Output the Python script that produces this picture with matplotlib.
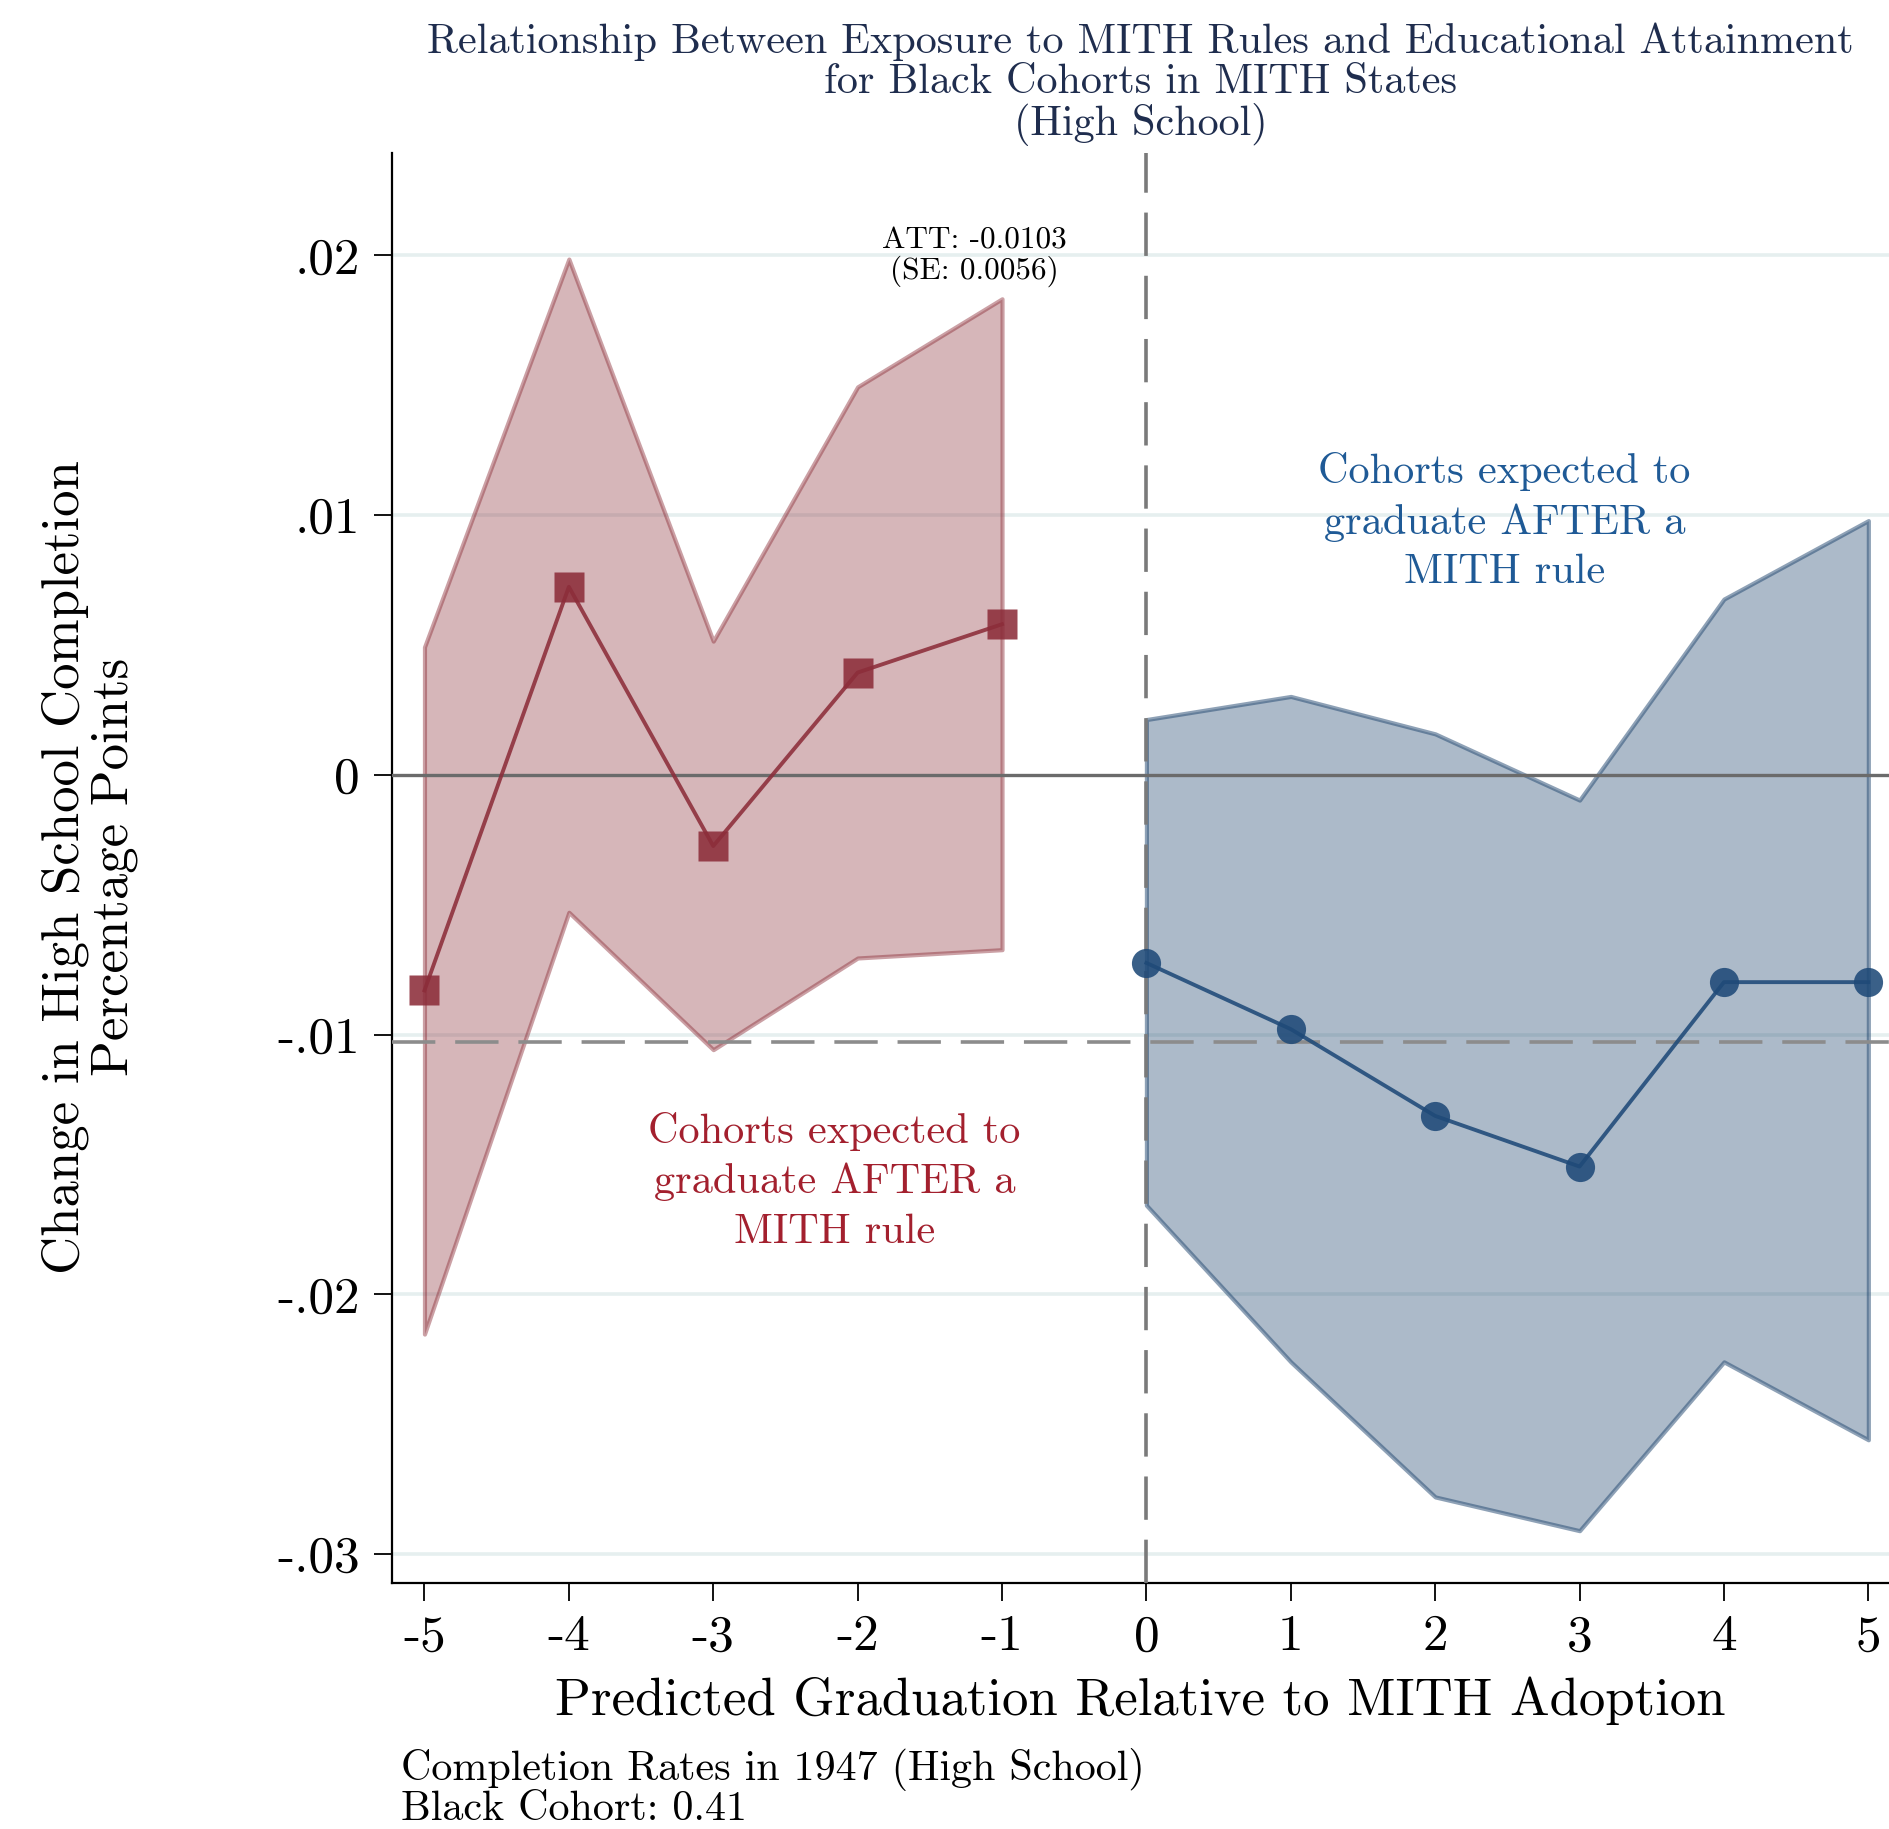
import matplotlib
matplotlib.use("Agg")
import matplotlib.pyplot as plt

plt.rcParams["font.family"] = ["cmr10", "DejaVu Serif"]
plt.rcParams["axes.unicode_minus"] = False
plt.rcParams["mathtext.fontset"] = "cm"

# event-study estimates, pre-period (red) and post-period (blue)
pre_x = [-5, -4, -3, -2, -1]
pre_coef = [-0.0083, 0.00724, -0.00274, 0.00394, 0.0058]
pre_hi = [0.00492, 0.01986, 0.00515, 0.01494, 0.01833]
pre_lo = [-0.02153, -0.00529, -0.01058, -0.00705, -0.00673]

post_x = [0, 1, 2, 3, 4, 5]
post_coef = [-0.00724, -0.00979, -0.01313, -0.01508, -0.00798, -0.00798]
post_hi = [0.00213, 0.00302, 0.00158, -0.00097, 0.00677, 0.00979]
post_lo = [-0.01657, -0.0226, -0.0278, -0.0291, -0.0226, -0.0256]

att = -0.0103
att_se = 0.0056
base_rate = 0.41

yticks = [-0.03, -0.02, -0.01, 0.0, 0.01, 0.02]
ytick_labels = ["-.03", "-.02", "-.01", "0", ".01", ".02"]
xticks = list(range(-5, 6))

RED = "#8c2d3a"
BLUE = "#1f4a78"
TXT_RED = "#a3202e"
TXT_BLUE = "#1f5a96"
TITLE_C = "#1f2d4e"

fig = plt.figure(figsize=(18.9, 18.29), dpi=100)
ax = fig.add_axes([0.2074, 0.1347, 0.7926, 0.7816])
ax.set_xlim(-5.225, 5.15)
ax.set_ylim(-0.0311, 0.02394)

for y in yticks:
    if y != 0:
        ax.axhline(y, color="#e6efef", lw=2.6, zorder=0)

ax.axhline(0, color="#6b6b6b", lw=2.4, zorder=3)
ax.axhline(att, color="#8c8c8c", lw=2.6, ls=(0, (12, 5.5)), zorder=3)
ax.axvline(0, color="#7a7a7a", lw=2.6, ls=(0, (12, 5.5)), zorder=3)

ax.fill_between(pre_x, pre_lo, pre_hi, facecolor=(0.55, 0.18, 0.22, 0.35),
                edgecolor=(0.55, 0.18, 0.22, 0.45), lw=3.0, zorder=2)
ax.fill_between(post_x, post_lo, post_hi, facecolor=(0.12, 0.27, 0.43, 0.37),
                edgecolor=(0.12, 0.27, 0.43, 0.5), lw=3.0, zorder=2)

ax.plot(pre_x, pre_coef, color=RED, lw=2.8, marker="s", ms=22, mec="none",
        alpha=0.88, zorder=4, clip_on=False)
ax.plot(post_x, post_coef, color=BLUE, lw=2.8, marker="o", ms=21, mec="none",
        alpha=0.88, zorder=4, clip_on=False)

ax.text(-1.19, 0.01995, f"ATT: {att:.4f}\n(SE: {att_se:.4f})", ha="center",
        va="center", fontsize=22.5, linespacing=1.05, zorder=5)
ax.text(2.48, 0.00975, "Cohorts expected to\ngraduate AFTER a\nMITH rule",
        ha="center", va="center", fontsize=30.5, color=TXT_BLUE, linespacing=1.4)
ax.text(-2.16, -0.01564, "Cohorts expected to\ngraduate AFTER a\nMITH rule",
        ha="center", va="center", fontsize=30.5, color=TXT_RED, linespacing=1.4)

for side in ("top", "right"):
    ax.spines[side].set_visible(False)
for side in ("left", "bottom"):
    ax.spines[side].set_linewidth(1.6)

ax.set_yticks(yticks)
ax.set_yticklabels(ytick_labels)
ax.set_xticks(xticks)
ax.set_xticklabels([str(v) for v in xticks])
ax.tick_params(axis="both", length=13, width=1.3, labelsize=37, pad=10)

fig.text(0.6035, 0.9875, "Relationship Between Exposure to MITH Rules and Educational Attainment\n"
         "for Black Cohorts in MITH States\n(High School)",
         ha="center", va="top", fontsize=30.4, color=TITLE_C, linespacing=1.07)
fig.text(0.6035, 0.070, "Predicted Graduation Relative to MITH Adoption",
         ha="center", va="center", fontsize=38)
fig.text(0.0476, 0.526, "Change in High School Completion\nPercentage Points",
         ha="center", va="center", rotation=90, fontsize=38, linespacing=1.05)
fig.text(0.2124, 0.0445, f"Completion Rates in 1947 (High School)\nBlack Cohort: {base_rate:.2f}",
         ha="left", va="top", fontsize=30.3, linespacing=1.0)

fig.savefig("out.png", dpi=100)
